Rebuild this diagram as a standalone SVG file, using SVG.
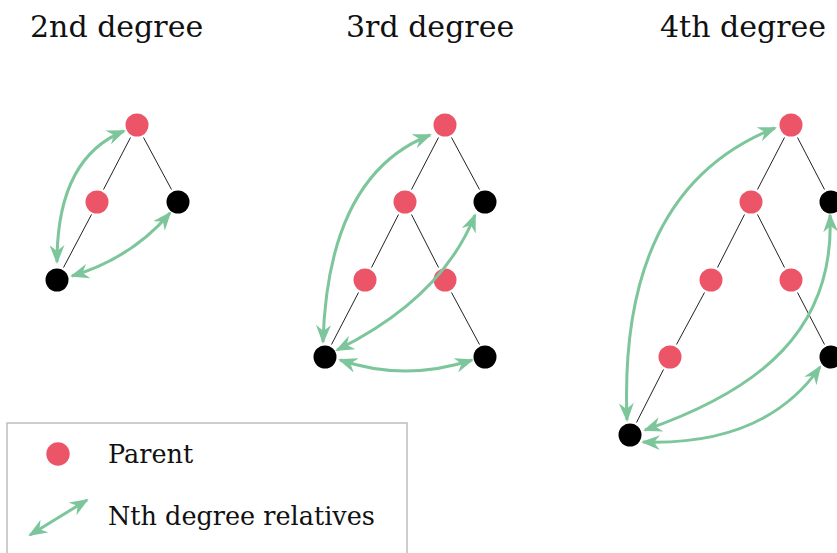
<svg xmlns="http://www.w3.org/2000/svg" width="837" height="553" viewBox="0 0 837 553">
<style>
text{font-family:"DejaVu Serif","Liberation Serif",serif;fill:#111}
.t{font-size:30px}
.l{font-size:25.5px}
.p{fill:#ec5468}
.b{fill:#000}
.e{stroke:#222;stroke-width:1;fill:none}
.a{stroke:#7dc69b;stroke-width:3;fill:none;marker-start:url(#ah);marker-end:url(#ah)}
</style>
<defs>
<marker id="ah" viewBox="0 0 19 15" refX="17" refY="7.5" markerWidth="19" markerHeight="15" markerUnits="userSpaceOnUse" orient="auto-start-reverse">
<path d="M0,0 L19,7.5 L0,15 L6,7.5 z" fill="#7dc69b"/>
</marker>
</defs>
<rect x="0" y="0" width="837" height="553" fill="#fff"/>
<g id="titles">
<text class="t" x="30" y="37">2nd degree</text>
<text class="t" x="346" y="37">3rd degree</text>
<text class="t" x="660" y="37">4th degree</text>
</g>
<g id="edges">
<path class="e" d="M130.5,137.5 L103.5,189.5 M143.5,137.5 L171.5,189.5 M91.5,214.5 L63.5,267.5"/>
<path class="e" d="M438.5,137.5 L411.5,189.5 M451.5,137.5 L479.5,189.5 M398.5,214.5 L371.5,267.5 M411.5,214.5 L438.5,267.5 M358.5,292.5 L331.5,344.5 M451.5,292.5 L479.5,344.5"/>
<path class="e" d="M784.5,137.5 L757.5,189.5 M797.5,137.5 L824.5,189.5 M744.5,214.5 L717.5,267.5 M757.5,214.5 L784.5,267.5 M704.5,292.5 L676.5,344.5 M797.5,292.5 L824.5,344.5 M663.5,369.5 L636.5,422.5"/>
</g>
<g id="tree2nd">
<circle id="t2-p1" class="p" cx="137" cy="125" r="11.5"/>
<circle id="t2-p2" class="p" cx="97" cy="202" r="11.5"/>
<circle id="t2-s" class="b" cx="178" cy="202" r="11.5"/>
<circle id="t2-me" class="b" cx="57" cy="280" r="11.5"/>
</g>
<g id="tree3rd">
<circle id="t3-p1" class="p" cx="445" cy="125" r="11.5"/>
<circle id="t3-p2" class="p" cx="405" cy="202" r="11.5"/>
<circle id="t3-s" class="b" cx="485" cy="202" r="11.5"/>
<circle id="t3-p3" class="p" cx="365" cy="280" r="11.5"/>
<circle id="t3-p4" class="p" cx="445" cy="280" r="11.5"/>
<circle id="t3-me" class="b" cx="325" cy="357" r="11.5"/>
<circle id="t3-c" class="b" cx="485" cy="357" r="11.5"/>
</g>
<g id="tree4th">
<circle id="t4-p1" class="p" cx="791" cy="125" r="11.5"/>
<circle id="t4-p2" class="p" cx="751" cy="202" r="11.5"/>
<circle id="t4-s" class="b" cx="831" cy="202" r="11.5"/>
<circle id="t4-p3" class="p" cx="711" cy="280" r="11.5"/>
<circle id="t4-p4" class="p" cx="791" cy="280" r="11.5"/>
<circle id="t4-p5" class="p" cx="670" cy="357" r="11.5"/>
<circle id="t4-c" class="b" cx="831" cy="357" r="11.5"/>
<circle id="t4-me" class="b" cx="630" cy="435" r="11.5"/>
</g>
<g id="connectors">
<path class="a" d="M57,262 Q57,158 124,131"/>
<path class="a" d="M72,276 Q132,258 170,213"/>
<path class="a" d="M323,342 Q328,175 430,135"/>
<path class="a" d="M337,350 Q442,298 475,215"/>
<path class="a" d="M340,360 Q405,382 472,360"/>
<path class="a" d="M627,420 Q618,190 775,128"/>
<path class="a" d="M645,430 C760,390 835,330 830,215"/>
<path class="a" d="M643,442 Q765,446 820,367"/>
</g>
<g id="legend">
<rect x="7" y="423" width="400" height="140" fill="none" stroke="#bdbdbd" stroke-width="1.5"/>
<circle class="p" cx="58" cy="454" r="11.7"/>
<text class="l" x="108" y="463">Parent</text>
<path class="a" d="M30,535 L87,500"/>
<text class="l" x="108" y="525">Nth degree relatives</text>
</g>
</svg>
